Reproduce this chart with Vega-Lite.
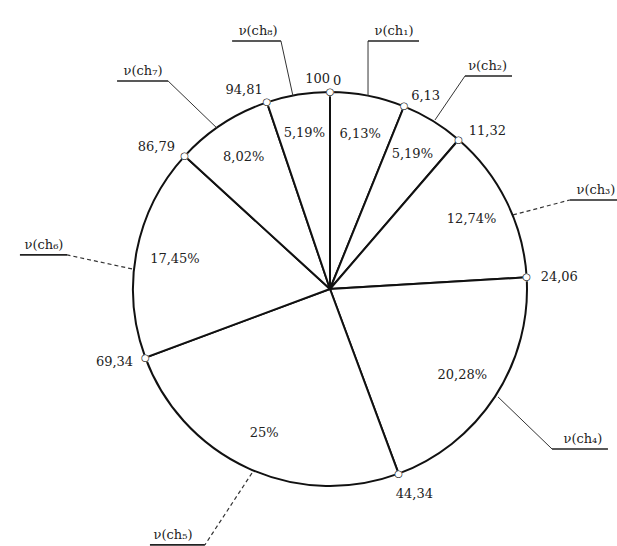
{
  "$schema": "https://vega.github.io/schema/vega-lite/v6.json",
  "autosize": {"type": "none"},
  "padding": {"left": 43, "top": 32, "right": 0, "bottom": 0},
  "width": 574,
  "height": 514,
  "background": "white",
  "config": {"view": {"stroke": null}, "font": "DejaVu Serif", "text": {"font": "DejaVu Serif", "color": "#222"}},
  "datasets": {
    "segments": [
      {"name": "ch1", "pct": 6.13, "cum": 6.13, "pctLabel": "6,13%"},
      {"name": "ch2", "pct": 5.19, "cum": 11.32, "pctLabel": "5,19%"},
      {"name": "ch3", "pct": 12.74, "cum": 24.06, "pctLabel": "12,74%"},
      {"name": "ch4", "pct": 20.28, "cum": 44.34, "pctLabel": "20,28%"},
      {"name": "ch5", "pct": 25, "cum": 69.34, "pctLabel": "25%"},
      {"name": "ch6", "pct": 17.45, "cum": 86.79, "pctLabel": "17,45%"},
      {"name": "ch7", "pct": 8.02, "cum": 94.81, "pctLabel": "8,02%"},
      {"name": "ch8", "pct": 5.19, "cum": 100, "pctLabel": "5,19%"}
    ],
    "bounds": [
      {"cum": 0, "label": "0"},
      {"cum": 6.13, "label": "6,13"},
      {"cum": 11.32, "label": "11,32"},
      {"cum": 24.06, "label": "24,06"},
      {"cum": 44.34, "label": "44,34"},
      {"cum": 69.34, "label": "69,34"},
      {"cum": 86.79, "label": "86,79"},
      {"cum": 94.81, "label": "94,81"},
      {"cum": 100, "label": "100"}
    ],
    "leaders": [
      {"name": "ch1", "label": "ν(ch₁)", "rx": 19.3, "ry": 98.0, "ex": 19.3, "ey": 125.9, "ux": 45.2, "lx": 32.5},
      {"name": "ch2", "label": "ν(ch₂)", "rx": 53.3, "ry": 85.8, "ex": 68.5, "ey": 108.1, "ux": 92.4, "lx": 80.0},
      {"name": "ch3", "label": "ν(ch₃)", "rx": 92.9, "ry": 37.6, "ex": 121.8, "ey": 45.2, "ux": 150, "lx": 135},
      {"name": "ch4", "label": "ν(ch₄)", "rx": 85.3, "ry": -54.8, "ex": 112.7, "ey": -81.2, "ux": 141.1, "lx": 128.4},
      {"name": "ch5", "label": "ν(ch₅)", "rx": -39.6, "ry": -93.4, "ex": -63.5, "ey": -129.9, "ux": -91.4, "lx": -79.7},
      {"name": "ch6", "label": "ν(ch₆)", "rx": -100.5, "ry": 10.2, "ex": -133.5, "ey": 17.3, "ux": -157.4, "lx": -145.2},
      {"name": "ch7", "label": "ν(ch₇)", "rx": -57.4, "ry": 81.7, "ex": -82.2, "ey": 105.6, "ux": -108.1, "lx": -94.9},
      {"name": "ch8", "label": "ν(ch₈)", "rx": -18.8, "ry": 98.0, "ex": -24.9, "ey": 125.9, "ux": -49.7, "lx": -36.5}
    ]
  },
  "layer": [
    {
      "data": {"name": "segments"},
      "mark": {"type": "arc", "radius": 197, "fill": "white", "stroke": "#111", "strokeWidth": 2},
      "encoding": {
        "theta": {"field": "pct", "type": "quantitative", "stack": true, "scale": {"domain": [0, 100]}},
        "detail": {"field": "name"},
        "order": {"field": "cum", "type": "quantitative"}
      }
    },
    {
      "data": {"name": "segments"},
      "mark": {"type": "text", "radius": 158, "fontSize": 13},
      "encoding": {
        "theta": {"field": "pct", "type": "quantitative", "stack": true, "scale": {"domain": [0, 100]}},
        "detail": {"field": "name"},
        "order": {"field": "cum", "type": "quantitative"},
        "text": {"field": "pctLabel"}
      }
    },
    {
      "data": {"name": "bounds"},
      "transform": [{"filter": "datum.cum < 100"}],
      "mark": {"type": "text", "radius": 197, "fontSize": 10, "font": "DejaVu Sans", "color": "white"},
      "encoding": {
        "theta": {"field": "cum", "type": "quantitative", "stack": null, "scale": {"domain": [0, 100]}},
        "text": {"value": "●"}
      }
    },
    {
      "data": {"name": "bounds"},
      "transform": [{"filter": "datum.cum < 100"}],
      "mark": {"type": "text", "radius": 197, "fontSize": 10, "font": "DejaVu Sans", "color": "#111"},
      "encoding": {
        "theta": {"field": "cum", "type": "quantitative", "stack": null, "scale": {"domain": [0, 100]}},
        "text": {"value": "○"}
      }
    },
    {
      "data": {"name": "bounds"},
      "transform": [{"filter": "datum.cum < 30"}],
      "mark": {"type": "text", "radius": 208, "fontSize": 13, "align": "left", "baseline": "middle", "dx": 3},
      "encoding": {
        "theta": {"field": "cum", "type": "quantitative", "stack": null, "scale": {"domain": [0, 100]}},
        "text": {"field": "label"}
      }
    },
    {
      "data": {"name": "bounds"},
      "transform": [{"filter": "datum.cum > 30 && datum.cum < 50"}],
      "mark": {"type": "text", "radius": 212, "fontSize": 13, "align": "left", "baseline": "top", "dx": -8},
      "encoding": {
        "theta": {"field": "cum", "type": "quantitative", "stack": null, "scale": {"domain": [0, 100]}},
        "text": {"field": "label"}
      }
    },
    {
      "data": {"name": "bounds"},
      "transform": [{"filter": "datum.cum > 50"}],
      "mark": {"type": "text", "radius": 210, "fontSize": 13, "align": "right", "baseline": "middle"},
      "encoding": {
        "theta": {"field": "cum", "type": "quantitative", "stack": null, "scale": {"domain": [0, 100]}},
        "text": {"field": "label"}
      }
    },
    {
      "data": {"name": "leaders"},
      "transform": [{"filter": "indexof(['ch3','ch5','ch6'], datum.name) < 0"}],
      "mark": {"type": "rule", "stroke": "#333", "strokeWidth": 1},
      "encoding": {
        "x": {"field": "rx", "type": "quantitative", "axis": null, "scale": {"domain": [-145.69, 145.69], "nice": false, "zero": false}},
        "y": {"field": "ry", "type": "quantitative", "axis": null, "scale": {"domain": [-130.46, 130.46], "nice": false, "zero": false}},
        "x2": {"field": "ex"},
        "y2": {"field": "ey"}
      }
    },
    {
      "data": {"name": "leaders"},
      "transform": [{"filter": "indexof(['ch3','ch5','ch6'], datum.name) >= 0"}],
      "mark": {"type": "rule", "stroke": "#333", "strokeWidth": 1.2, "strokeDash": [4, 3]},
      "encoding": {
        "x": {"field": "rx", "type": "quantitative", "axis": null, "scale": {"domain": [-145.69, 145.69], "nice": false, "zero": false}},
        "y": {"field": "ry", "type": "quantitative", "axis": null, "scale": {"domain": [-130.46, 130.46], "nice": false, "zero": false}},
        "x2": {"field": "ex"},
        "y2": {"field": "ey"}
      }
    },
    {
      "data": {"name": "leaders"},
      "mark": {"type": "rule", "stroke": "#222", "strokeWidth": 1.6},
      "encoding": {
        "x": {"field": "ex", "type": "quantitative", "axis": null, "scale": {"domain": [-145.69, 145.69], "nice": false, "zero": false}},
        "y": {"field": "ey", "type": "quantitative", "axis": null, "scale": {"domain": [-130.46, 130.46], "nice": false, "zero": false}},
        "x2": {"field": "ux"}
      }
    },
    {
      "data": {"name": "leaders"},
      "mark": {"type": "text", "fontSize": 13, "align": "center", "baseline": "bottom", "dy": -3},
      "encoding": {
        "x": {"field": "lx", "type": "quantitative", "axis": null, "scale": {"domain": [-145.69, 145.69], "nice": false, "zero": false}},
        "y": {"field": "ey", "type": "quantitative", "axis": null, "scale": {"domain": [-130.46, 130.46], "nice": false, "zero": false}},
        "text": {"field": "label"}
      }
    }
  ]
}
